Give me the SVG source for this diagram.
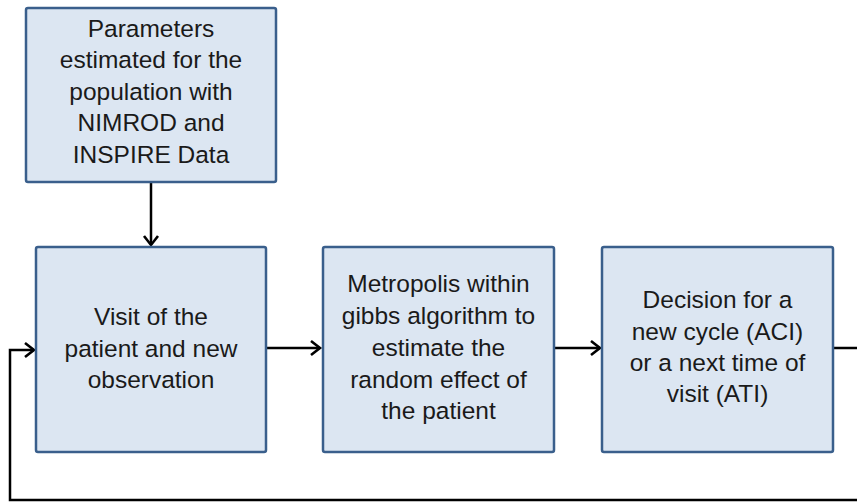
<svg xmlns="http://www.w3.org/2000/svg" width="857" height="502" viewBox="0 0 857 502">
<defs>
<style>
.box{fill:#DCE6F2;stroke:#3A5F8C;stroke-width:2.5}
.lbl{font-family:"Liberation Sans",Arial,sans-serif;font-size:24.5px;fill:#1a1a1a;text-anchor:middle}
.conn{fill:none;stroke:#000;stroke-width:2.5;marker-end:url(#arr)}
</style>
<marker id="arr" markerUnits="userSpaceOnUse" markerWidth="16" markerHeight="20" viewBox="0 0 16 20" refX="13" refY="10" orient="auto">
<path d="M4,3 L13,10 L4,17" fill="none" stroke="#000" stroke-width="2.6" stroke-linejoin="miter"/>
</marker>
</defs>
<rect width="857" height="502" fill="#fff"/>
<g id="connectors">
<path class="conn" d="M151,183 L151,245"/>
<path class="conn" d="M267,348 L320,348"/>
<path class="conn" d="M555,348 L600,348"/>
<path class="conn" d="M834,348 L870,348 L870,500 L10,500 L10,350 L34,350"/>
</g>
<g id="n1">
<rect class="box" x="26" y="8" width="250" height="174" rx="2"/>
<text class="lbl" x="151" y="37">Parameters</text>
<text class="lbl" x="151" y="68">estimated for the</text>
<text class="lbl" x="151" y="100">population with</text>
<text class="lbl" x="151" y="131">NIMROD and</text>
<text class="lbl" x="151" y="163">INSPIRE Data</text>
</g>
<g id="n2">
<rect class="box" x="36" y="247" width="230" height="205" rx="2"/>
<text class="lbl" x="151" y="325">Visit of the</text>
<text class="lbl" x="151" y="357">patient and new</text>
<text class="lbl" x="151" y="388">observation</text>
</g>
<g id="n3">
<rect class="box" x="323" y="247" width="231" height="205" rx="2"/>
<text class="lbl" x="438.5" y="292">Metropolis within</text>
<text class="lbl" x="438.5" y="324">gibbs algorithm to</text>
<text class="lbl" x="438.5" y="356">estimate the</text>
<text class="lbl" x="438.5" y="388">random effect of</text>
<text class="lbl" x="438.5" y="419">the patient</text>
</g>
<g id="n4">
<rect class="box" x="602" y="247" width="231" height="205" rx="2"/>
<text class="lbl" x="717.5" y="308">Decision for a</text>
<text class="lbl" x="717.5" y="340">new cycle (ACI)</text>
<text class="lbl" x="717.5" y="371">or a next time of</text>
<text class="lbl" x="717.5" y="402">visit (ATI)</text>
</g>
</svg>
